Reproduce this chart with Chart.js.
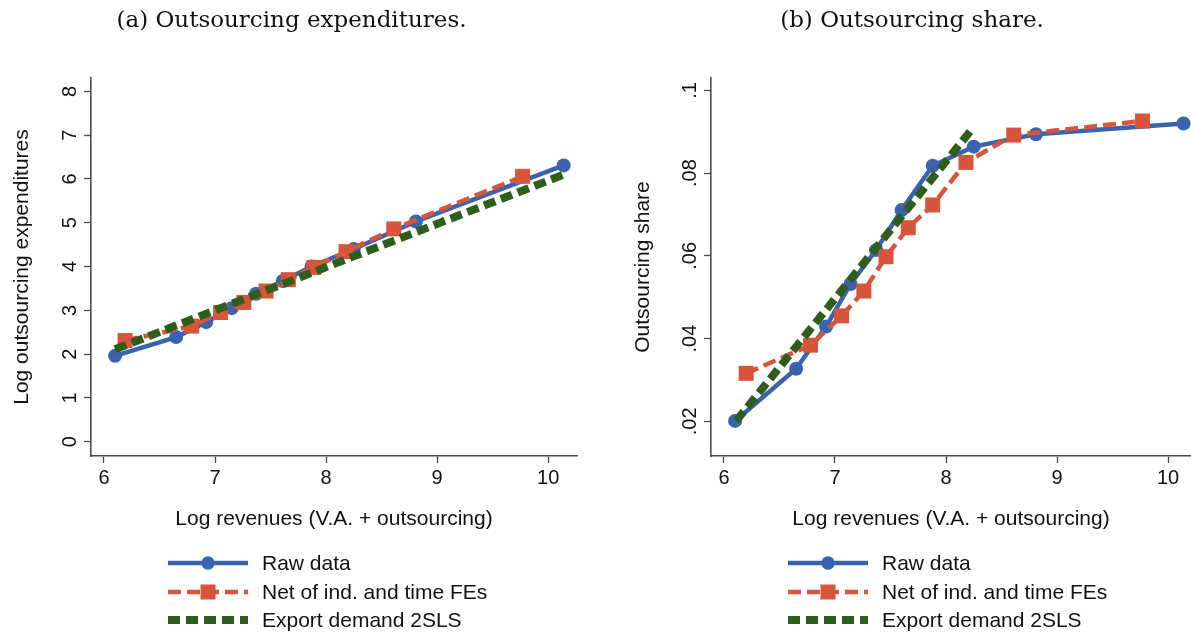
<!DOCTYPE html>
<html><head><meta charset="utf-8">
<script src="https://cdn.jsdelivr.net/npm/chart.js@4/dist/chart.umd.min.js"></script>
<style>
html,body{margin:0;padding:0;background:#fff;}
#wrap{position:relative;width:1191px;height:632px;overflow:hidden;background:#fff;}
#cA{position:absolute;left:0;top:0;}
#cB{position:absolute;left:600px;top:0;}
</style></head><body>
<div id="wrap">
<canvas id="cA" width="583" height="632"></canvas>
<canvas id="cB" width="591" height="632"></canvas>
</div>
<script>
// ---------- Panel (a): log outsourcing expenditures ----------
const rawXA = [6.10, 6.65, 6.92, 7.15, 7.37, 7.61, 7.87, 8.25, 8.81, 10.14];
const rawYA = [1.96, 2.39, 2.73, 3.05, 3.38, 3.67, 4.00, 4.40, 5.03, 6.31];
const netXA = [6.19, 6.79, 7.05, 7.26, 7.46, 7.66, 7.89, 8.18, 8.61, 9.77];
const netYA = [2.31, 2.64, 2.95, 3.18, 3.44, 3.70, 3.98, 4.34, 4.86, 6.06];
const ivXA  = [6.10, 10.14];
const ivYA  = [2.11, 6.10];
const yTicksA = [0, 1, 2, 3, 4, 5, 6, 7, 8];
const yTickLabelsA = ['0', '1', '2', '3', '4', '5', '6', '7', '8'];

// ---------- Panel (b): outsourcing share ----------
const rawXB = [6.10, 6.65, 6.92, 7.14, 7.37, 7.60, 7.88, 8.25, 8.81, 10.14];
const rawYB = [0.0201, 0.0327, 0.0429, 0.0532, 0.0614, 0.0711, 0.0818, 0.0864, 0.0894, 0.0920];
const netXB = [6.20, 6.78, 7.06, 7.26, 7.46, 7.66, 7.88, 8.18, 8.61, 9.77];
const netYB = [0.0316, 0.0384, 0.0455, 0.0515, 0.0598, 0.0668, 0.0723, 0.0826, 0.0892, 0.0926];
const ivXB  = [6.11, 8.23];
const ivYB  = [0.0201, 0.0905];
const yTicksB = [0.02, 0.04, 0.06, 0.08, 0.1];
const yTickLabelsB = ['.02', '.04', '.06', '.08', '.1'];

// ---------- shared ----------
const xTicks = [6, 7, 8, 9, 10];
const xTickLabels = ['6', '7', '8', '9', '10'];
const seriesNames = ['Raw data', 'Net of ind. and time FEs', 'Export demand 2SLS'];
const titleA = '(a) Outsourcing expenditures.';
const titleB = '(b) Outsourcing share.';
const yTitleA = 'Log outsourcing expenditures';
const yTitleB = 'Outsourcing share';
const xTitle = 'Log revenues (V.A. + outsourcing)';

const BLUE = '#3a63af', RED = '#d7553a', GREEN = '#2e5e1c', AXIS = '#4a4a4a', TXT = '#111111';
const SANS = 'Liberation Sans, Arial, Helvetica, sans-serif';

function pts(xs, ys) { return xs.map((x, i) => ({x: x, y: ys[i]})); }

const stataLegend = {
  id: 'stataLegend',
  afterDraw(chart) {
    const ctx = chart.ctx;
    const x0 = chart.chartArea.left + 77;
    const rows = [563, 592, 620];
    ctx.save();
    chart.data.datasets.forEach((ds, i) => {
      const y = rows[i];
      ctx.beginPath();
      ctx.strokeStyle = ds.borderColor;
      ctx.lineWidth = ds.borderWidth;
      ctx.lineCap = 'butt';
      ctx.setLineDash(ds.borderDash || []);
      ctx.moveTo(x0, y); ctx.lineTo(x0 + 80, y);
      ctx.stroke();
      ctx.setLineDash([]);
      const cx = x0 + 40;
      ctx.fillStyle = ds.pointBackgroundColor || ds.borderColor;
      if (ds.pointStyle === 'circle' && ds.pointRadius > 0) {
        ctx.beginPath(); ctx.arc(cx, y, 6.7, 0, Math.PI * 2); ctx.fill();
      } else if (ds.pointStyle === 'rect' && ds.pointRadius > 0) {
        ctx.fillRect(cx - 7.5, y - 7.5, 15, 15);
      }
      ctx.fillStyle = TXT;
      ctx.font = '21px ' + SANS;
      ctx.textAlign = 'left';
      ctx.textBaseline = 'middle';
      ctx.fillText(ds.label, x0 + 94, y + 1);
    });
    ctx.restore();
  }
};

function makePanel(canvas, cfg) {
  return new Chart(canvas, {
    type: 'line',
    data: {
      datasets: [
        {label: seriesNames[0], data: pts(cfg.rawX, cfg.rawY), borderColor: BLUE, backgroundColor: BLUE,
         borderWidth: 4.5, pointStyle: 'circle', pointRadius: 7, pointBackgroundColor: BLUE,
         pointBorderWidth: 0, order: 2, clip: false, tension: 0, fill: false},
        {label: seriesNames[1], data: pts(cfg.netX, cfg.netY), borderColor: RED, backgroundColor: RED,
         borderWidth: 4.5, borderDash: [13, 6], pointStyle: 'rect', pointRadius: 10.6, pointBackgroundColor: RED,
         pointBorderWidth: 0, order: 1, clip: false, tension: 0, fill: false},
        {label: seriesNames[2], data: pts(cfg.ivX, cfg.ivY), borderColor: GREEN, backgroundColor: GREEN,
         borderWidth: 8, borderDash: [12, 6], pointRadius: 0, order: 0, clip: false, tension: 0, fill: false}
      ]
    },
    options: {
      responsive: false,
      animation: false,
      events: [],
      layout: {autoPadding: false, padding: {left: cfg.padL, right: cfg.padR, top: 0, bottom: 96}},
      plugins: {
        legend: {display: false},
        tooltip: {enabled: false},
        title: {display: true, text: cfg.title, color: TXT,
                font: {family: 'DejaVu Serif', size: 23, weight: 'normal'},
                padding: {top: 7.4, bottom: 43}}
      },
      scales: {
        x: {
          type: 'linear', min: 5.883, max: cfg.xMax,
          afterBuildTicks: (s) => { s.ticks = xTicks.map(v => ({value: v})); },
          afterFit: (s) => { s.height = 80; s.paddingLeft = 0; s.paddingRight = 0; },
          ticks: {callback: (v, i) => xTickLabels[i], color: TXT, font: {family: SANS, size: 20}, padding: 3, maxRotation: 0},
          grid: {display: true, drawOnChartArea: false, drawTicks: true, tickLength: 7, tickColor: AXIS, tickWidth: 1.3},
          border: {display: true, color: AXIS, width: 1.6},
          title: {display: true, text: xTitle, color: TXT, font: {family: SANS, size: 21}, padding: {top: 0, bottom: 4.4}}
        },
        y: {
          type: 'linear', min: cfg.yMin, max: cfg.yMax,
          afterBuildTicks: (s) => { s.ticks = cfg.yTicks.map(v => ({value: v})); },
          afterFit: (s) => { s.width = cfg.yAxisW; s.paddingTop = 0; s.paddingBottom = 0; },
          ticks: {callback: (v, i) => cfg.yTickLabels[i], color: TXT, font: {family: SANS, size: 20},
                  minRotation: 90, maxRotation: 90, crossAlign: 'center', padding: cfg.yTickPad},
          grid: {display: true, drawOnChartArea: false, drawTicks: true, tickLength: 7, tickColor: AXIS, tickWidth: 1.3},
          border: {display: true, color: AXIS, width: 1.6},
          title: {display: true, text: cfg.yTitle, color: TXT, font: {family: SANS, size: 21, lineHeight: 1},
                  padding: {top: cfg.yTitlePad, bottom: 0}}
        }
      }
    },
    plugins: [stataLegend]
  });
}

makePanel(document.getElementById('cA'), {
  rawX: rawXA, rawY: rawYA, netX: netXA, netY: netYA, ivX: ivXA, ivY: ivYA,
  yTicks: yTicksA, yTickLabels: yTickLabelsA, yMin: -0.327, yMax: 8.306, xMax: 10.26,
  title: titleA, yTitle: yTitleA, padL: 6, padR: 6, yAxisW: 85, yTitlePad: 5.5, yTickPad: 8.4
});
makePanel(document.getElementById('cB'), {
  rawX: rawXB, rawY: rawYB, netX: netXB, netY: netYB, ivX: ivXB, ivY: ivYB,
  yTicks: yTicksB, yTickLabels: yTickLabelsB, yMin: 0.01162, yMax: 0.1030, xMax: 10.207,
  title: titleB, yTitle: yTitleB, padL: 33, padR: 0, yAxisW: 78, yTitlePad: 0, yTickPad: 0.1
});
</script>
</body></html>
